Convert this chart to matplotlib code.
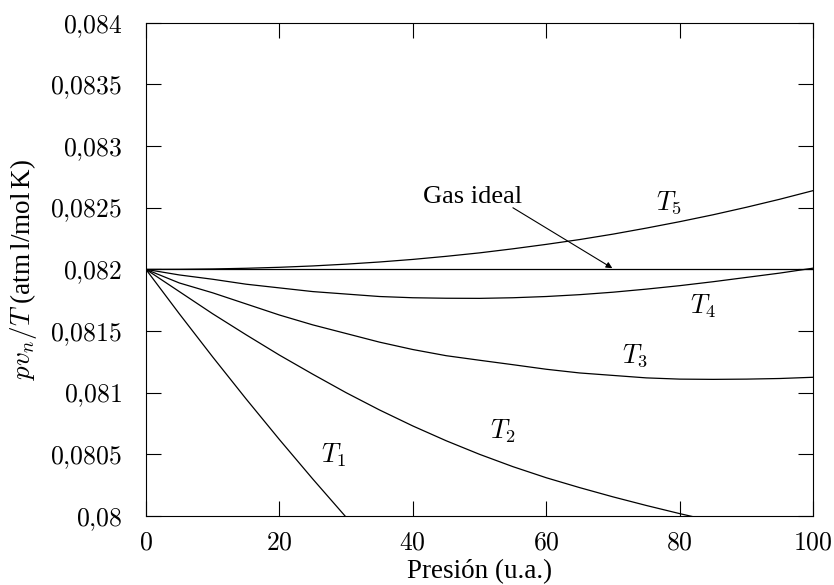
import numpy as np
import matplotlib
matplotlib.use("Agg")
import matplotlib.pyplot as plt
from matplotlib.ticker import MultipleLocator, FuncFormatter

plt.rcParams['mathtext.fontset'] = 'cm'
plt.rcParams['font.family'] = ['Liberation Serif', 'DejaVu Serif']

# pressure samples (u.a.)
p = [0, 5, 10, 15, 20, 25, 30, 35, 40, 45, 50, 55, 60, 65, 70, 75, 80, 85, 90, 95, 100]
p1 = [0, 5, 10, 15, 20, 25, 30, 35]
p2 = [0, 5, 10, 15, 20, 25, 30, 35, 40, 45, 50, 55, 60, 65, 70, 75, 80, 85]
p_ideal = [0, 100]

# pv_n/T
ideal = [0.082, 0.082]
T1 = [0.082, 0.08164, 0.08129, 0.08095, 0.08062, 0.0803, 0.07999, 0.0797]
T2 = [0.082, 0.08182, 0.08164, 0.08147, 0.081305, 0.08115, 0.081, 0.08086, 0.08073,
      0.08061, 0.0805, 0.0804, 0.08031, 0.08023, 0.080155, 0.080085, 0.080019, 0.079957]
T3 = [0.082, 0.08189, 0.08181, 0.08172, 0.08163, 0.08155, 0.08148, 0.08141, 0.08135,
      0.0813, 0.081263, 0.081227, 0.08119, 0.08116, 0.08114, 0.08112, 0.08111,
      0.081108, 0.08111, 0.081115, 0.081125]
T4 = [0.082, 0.081955, 0.08192, 0.08188, 0.08185, 0.08182, 0.0818, 0.08178, 0.08177,
      0.081766, 0.081765, 0.08177, 0.08178, 0.081795, 0.081815, 0.08184, 0.081868,
      0.0819, 0.081935, 0.08197, 0.08201]
T5 = [0.082, 0.0820008, 0.0820036, 0.082009, 0.082017, 0.082028, 0.0820425, 0.08206,
      0.082081, 0.082106, 0.082134, 0.082167, 0.082203, 0.082242, 0.082286, 0.082335,
      0.082387, 0.082443, 0.082504, 0.082569, 0.082639]

labels = ['$T_1$', '$T_2$', '$T_3$', '$T_4$', '$T_5$']
label_pos = [(28.2, 0.080495), (53.5, 0.08069), (73.3, 0.0813), (83.5, 0.0817), (78.3, 0.08254)]

fig = plt.figure(figsize=(8.34, 5.85), dpi=100)
ax = fig.add_axes([0.175, 0.118, 0.800, 0.843])

lw = 0.9
ax.plot(p_ideal, ideal, 'k-', lw=lw)
ax.plot(p1, T1, 'k-', lw=lw)
ax.plot(p2, T2, 'k-', lw=lw)
ax.plot(p, T3, 'k-', lw=lw)
ax.plot(p, T4, 'k-', lw=lw)
ax.plot(p, T5, 'k-', lw=lw)

for lab, (x, y) in zip(labels, label_pos):
    ax.text(x, y, lab, fontsize=19, ha='center', va='center')

ax.text(48.9, 0.08259, 'Gas ideal', fontsize=19, ha='center', va='center')
ax.annotate('', xy=(69.9, 0.08201), xytext=(55.0, 0.0825),
            arrowprops=dict(arrowstyle='-|>', color='k', lw=0.8,
                            mutation_scale=9, shrinkA=0, shrinkB=0))

ax.set_xlim(0, 100)
ax.set_ylim(0.080, 0.084)
ax.xaxis.set_major_locator(MultipleLocator(20))
ax.yaxis.set_major_locator(MultipleLocator(0.0005))
ax.xaxis.set_major_formatter(FuncFormatter(lambda v, pos: '$%g$' % v))
ax.yaxis.set_major_formatter(
    FuncFormatter(lambda v, pos: ('$%g$' % round(v, 5)).replace('.', '{,}')))
ax.tick_params(direction='in', length=10.5, width=0.8, top=True, right=True,
               labelsize=18.5)
ax.tick_params(axis='x', pad=12)
ax.tick_params(axis='y', pad=17)
for s in ax.spines.values():
    s.set_linewidth(0.8)

ax.set_xlabel('Presión (u.a.)', fontsize=19.5, labelpad=3)
ax.set_ylabel('$pv_n/T$ (atm$\\,$l/mol$\\,$K)', fontsize=19.5, labelpad=8)

fig.savefig('out.png', dpi=100)
